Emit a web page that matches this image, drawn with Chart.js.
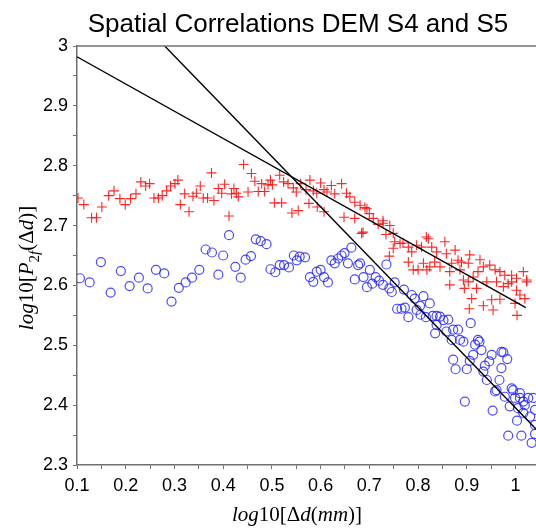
<!DOCTYPE html>
<html>
<head>
<meta charset="utf-8">
<title>Spatial Correlations DEM S4 and S5</title>
<script src="https://cdn.jsdelivr.net/npm/chart.js@4.4.0/dist/chart.umd.min.js"></script>
<style>
  html, body { margin: 0; padding: 0; background: #fff; }
  #wrap { width: 536px; height: 529px; }
</style>
</head>
<body>
<div id="wrap"><canvas id="chart" width="536" height="529"></canvas></div>
<script>
// S4 (red crosses): log10 of distance vs log10 of P2f
const s4X = [0.102, 0.114, 0.130, 0.140, 0.151, 0.165, 0.176, 0.188, 0.199, 0.210, 0.221, 0.231, 0.241, 0.249, 0.258, 0.267, 0.275, 0.284, 0.292, 0.301,
  0.307, 0.312, 0.321, 0.330, 0.338, 0.345, 0.353, 0.359, 0.368, 0.376, 0.381, 0.390, 0.397, 0.403, 0.412, 0.417, 0.422, 0.427, 0.431, 0.442,
  0.451, 0.458, 0.465, 0.472, 0.479, 0.485, 0.492, 0.497, 0.501, 0.505, 0.516, 0.520, 0.524, 0.533, 0.541, 0.544, 0.550, 0.554, 0.559, 0.570,
  0.576, 0.578, 0.585, 0.592, 0.593, 0.600, 0.607, 0.607, 0.613, 0.622, 0.629, 0.643, 0.648, 0.653, 0.660, 0.670, 0.670, 0.681, 0.684, 0.687,
  0.691, 0.695, 0.700, 0.708, 0.718, 0.728, 0.728, 0.734, 0.741, 0.742, 0.749, 0.749, 0.752, 0.763, 0.769, 0.780, 0.780, 0.787, 0.790, 0.797,
  0.800, 0.807, 0.811, 0.817, 0.818, 0.821, 0.824, 0.828, 0.834, 0.838, 0.845, 0.855, 0.858, 0.865, 0.865, 0.869, 0.876, 0.882, 0.886, 0.889,
  0.893, 0.895, 0.903, 0.903, 0.905, 0.906, 0.910, 0.913, 0.920, 0.923, 0.927, 0.934, 0.934, 0.941, 0.947, 0.951, 0.954, 0.958, 0.961, 0.968,
  0.968, 0.975, 0.978, 0.985, 0.992, 0.992, 0.999, 1.002, 1.002, 1.003, 1.009, 1.016, 1.019, 1.023, 1.023];
const s4Y = [2.746, 2.735, 2.713, 2.713, 2.731, 2.750, 2.758, 2.745, 2.735, 2.745, 2.753, 2.773, 2.766, 2.770, 2.746, 2.746, 2.750, 2.758, 2.766, 2.770,
  2.776, 2.735, 2.753, 2.723, 2.749, 2.754, 2.766, 2.746, 2.746, 2.788, 2.742, 2.762, 2.754, 2.769, 2.716, 2.753, 2.762, 2.754, 2.748, 2.802,
  2.756, 2.787, 2.774, 2.757, 2.770, 2.757, 2.768, 2.776, 2.768, 2.738, 2.784, 2.738, 2.773, 2.770, 2.721, 2.763, 2.756, 2.725, 2.770, 2.760,
  2.737, 2.776, 2.758, 2.754, 2.731, 2.771, 2.760, 2.723, 2.756, 2.767, 2.753, 2.770, 2.714, 2.754, 2.748, 2.739, 2.712, 2.734, 2.687, 2.689,
  2.730, 2.728, 2.720, 2.712, 2.702, 2.708, 2.704, 2.685, 2.649, 2.700, 2.687, 2.662, 2.673, 2.670, 2.671, 2.664, 2.639, 2.656, 2.626, 2.667,
  2.626, 2.664, 2.637, 2.681, 2.626, 2.678, 2.631, 2.664, 2.639, 2.656, 2.631, 2.673, 2.653, 2.623, 2.601, 2.637, 2.659, 2.642, 2.626, 2.639,
  2.609, 2.595, 2.637, 2.606, 2.561, 2.651, 2.578, 2.614, 2.595, 2.623, 2.643, 2.631, 2.566, 2.606, 2.634, 2.576, 2.559, 2.626, 2.606, 2.623,
  2.577, 2.598, 2.617, 2.603, 2.617, 2.606, 2.570, 2.612, 2.592, 2.550, 2.584, 2.623, 2.578, 2.609, 2.606];

// S5 (blue circles)
const s5X = [0.106, 0.126, 0.149, 0.169, 0.190, 0.208, 0.227, 0.245, 0.262, 0.279, 0.294, 0.309, 0.323, 0.336, 0.351, 0.364, 0.377, 0.390, 0.400, 0.412,
  0.425, 0.436, 0.446, 0.457, 0.467, 0.477, 0.489, 0.497, 0.507, 0.516, 0.525, 0.535, 0.545, 0.551, 0.557, 0.568, 0.578, 0.585, 0.592, 0.600,
  0.607, 0.615, 0.622, 0.629, 0.636, 0.643, 0.649, 0.656, 0.663, 0.670, 0.677, 0.681, 0.688, 0.695, 0.701, 0.706, 0.713, 0.720, 0.728, 0.735,
  0.741, 0.746, 0.752, 0.757, 0.766, 0.771, 0.773, 0.780, 0.787, 0.793, 0.797, 0.804, 0.805, 0.811, 0.816, 0.824, 0.830, 0.835, 0.838, 0.838,
  0.845, 0.852, 0.858, 0.862, 0.869, 0.872, 0.872, 0.877, 0.882, 0.886, 0.893, 0.896, 0.900, 0.906, 0.908, 0.913, 0.917, 0.923, 0.926, 0.930,
  0.934, 0.937, 0.941, 0.946, 0.951, 0.953, 0.958, 0.961, 0.967, 0.971, 0.971, 0.975, 0.978, 0.983, 0.985, 0.988, 0.992, 0.995, 0.999, 1.003,
  1.005, 1.009, 1.009, 1.012, 1.016, 1.016, 1.019, 1.026, 1.030, 1.033, 1.036, 1.040, 1.040, 1.040];
const s5Y = [2.612, 2.605, 2.639, 2.588, 2.624, 2.599, 2.613, 2.595, 2.626, 2.620, 2.573, 2.596, 2.605, 2.613, 2.626, 2.660, 2.655, 2.618, 2.650, 2.684,
  2.631, 2.613, 2.643, 2.649, 2.677, 2.674, 2.669, 2.627, 2.622, 2.634, 2.634, 2.630, 2.650, 2.642, 2.648, 2.647, 2.614, 2.606, 2.623, 2.626,
  2.614, 2.605, 2.642, 2.637, 2.645, 2.650, 2.654, 2.637, 2.663, 2.610, 2.634, 2.637, 2.614, 2.597, 2.626, 2.603, 2.614, 2.608, 2.601, 2.635,
  2.595, 2.589, 2.605, 2.561, 2.561, 2.593, 2.563, 2.547, 2.584, 2.578, 2.559, 2.566, 2.551, 2.582, 2.547, 2.570, 2.549, 2.520, 2.549, 2.534,
  2.548, 2.542, 2.523, 2.543, 2.509, 2.526, 2.476, 2.460, 2.526, 2.509, 2.506, 2.406, 2.460, 2.474, 2.537, 2.484, 2.501, 2.509, 2.506, 2.492,
  2.456, 2.466, 2.442, 2.473, 2.484, 2.391, 2.423, 2.425, 2.442, 2.462, 2.489, 2.488, 2.414, 2.477, 2.349, 2.398, 2.428, 2.425, 2.412, 2.374,
  2.395, 2.412, 2.420, 2.349, 2.406, 2.387, 2.400, 2.412, 2.381, 2.337, 2.412, 2.392, 2.367, 2.352];

// linear fits (end points)
const fitS4X = [0.100, 1.021];
const fitS4Y = [2.982, 2.563];
const fitS5X = [0.280, 1.042];
const fitS5Y = [3.000, 2.360];

// axis ranges / ticks
const xRange = [0.1, 1.042];
const yRange = [2.3, 3.0];
const tickStep = 0.05;

const toPoints = (xs, ys) => xs.map((x, i) => ({ x: x, y: ys[i] }));

const GREY = '#707070';
const SANS = '"Liberation Sans", Arial, sans-serif';
const SERIF = '"Liberation Serif", "Times New Roman", serif';

// only every second tick (multiples of 0.1) gets a label
function tickLabel(v) {
  const t = Math.round(v * 100);
  return t % 10 === 0 ? String(t / 100) : '';
}

// draws a small math-style label: [text, 'i' italic | 's' subscript | 'si' italic subscript | '' upright]
function drawMath(ctx, parts, x, y, size, rotated) {
  ctx.save();
  ctx.translate(x, y);
  if (rotated) ctx.rotate(-Math.PI / 2);
  const fontOf = p => (p[1].includes('i') ? 'italic ' : '') +
    (p[1].includes('s') ? Math.round(size * 0.7) : size) + 'px ' + SERIF;
  let w = 0;
  parts.forEach(p => { ctx.font = fontOf(p); w += ctx.measureText(p[0]).width; });
  let cx = -w / 2;
  ctx.fillStyle = '#000';
  ctx.textAlign = 'left';
  ctx.textBaseline = 'alphabetic';
  parts.forEach(p => {
    ctx.font = fontOf(p);
    ctx.fillText(p[0], cx, p[1].includes('s') ? size * 0.28 : 0);
    cx += ctx.measureText(p[0]).width;
  });
  ctx.restore();
}

const textPlugin = {
  id: 'textPlugin',
  afterDraw(chart) {
    const { ctx, chartArea } = chart;
    ctx.save();
    // top frame line
    ctx.strokeStyle = GREY;
    ctx.lineWidth = 1.5;
    ctx.beginPath();
    ctx.moveTo(chartArea.left, chartArea.top);
    ctx.lineTo(chartArea.right, chartArea.top);
    ctx.stroke();

    ctx.fillStyle = '#000';
    ctx.font = '26px ' + SANS;
    ctx.textAlign = 'center';
    ctx.textBaseline = 'alphabetic';
    ctx.fillText('Spatial Correlations DEM S4 and S5', 298, 32);
    ctx.restore();

    drawMath(ctx, [['log', 'i'], ['10[Δ', ''], ['d', 'i'], ['(', ''], ['mm', 'i'], [')]', '']], 297, 521, 21, false);
    drawMath(ctx, [['log', 'i'], ['10[', ''], ['P', 'i'], ['2', 's'], ['f', 'si'], ['(Δ', ''], ['d', 'i'], [')]', '']], 33, 268, 21, true);
  }
};

const axisCommon = {
  type: 'linear',
  border: { display: true, color: GREY, width: 1.5 },
  grid: { drawOnChartArea: false, drawTicks: true, tickLength: 4, color: GREY, lineWidth: 1 },
  ticks: {
    stepSize: tickStep,
    includeBounds: false,
    autoSkip: false,
    maxRotation: 0,
    maxTicksLimit: 100,
    color: '#000',
    font: { family: SANS, size: 18 },
    callback: tickLabel
  }
};

new Chart(document.getElementById('chart'), {
  type: 'scatter',
  data: {
    datasets: [
      { data: toPoints(fitS4X, fitS4Y), showLine: true, pointRadius: 0, borderColor: '#000', borderWidth: 1.4 },
      { data: toPoints(fitS5X, fitS5Y), showLine: true, pointRadius: 0, borderColor: '#000', borderWidth: 1.4 },
      {
        label: 'S4', data: toPoints(s4X, s4Y),
        pointStyle: 'cross', pointRadius: 5, borderWidth: 1.1,
        borderColor: 'rgba(255,0,0,0.85)', backgroundColor: 'rgba(255,0,0,0.85)'
      },
      {
        label: 'S5', data: toPoints(s5X, s5Y),
        pointStyle: 'circle', pointRadius: 4.5, borderWidth: 1.2,
        borderColor: 'rgba(30,30,255,0.8)', backgroundColor: 'rgba(0,0,0,0)'
      }
    ]
  },
  options: {
    responsive: false,
    animation: false,
    devicePixelRatio: 1,
    events: [],
    layout: { autoPadding: false, padding: { top: 46, right: 0, left: 0, bottom: 0 } },
    plugins: { legend: { display: false }, tooltip: { enabled: false }, title: { display: false } },
    scales: {
      x: Object.assign({}, axisCommon, {
        min: xRange[0], max: xRange[1],
        afterFit: s => { s.height = 64; s.paddingLeft = 0; s.paddingRight = 0; },
        ticks: Object.assign({}, axisCommon.ticks, { padding: 6 })
      }),
      y: Object.assign({}, axisCommon, {
        min: yRange[0], max: yRange[1],
        afterFit: s => { s.width = 77; s.paddingTop = 0; s.paddingBottom = 0; },
        ticks: Object.assign({}, axisCommon.ticks, { padding: 5 })
      })
    }
  },
  plugins: [textPlugin]
});
</script>
</body>
</html>
